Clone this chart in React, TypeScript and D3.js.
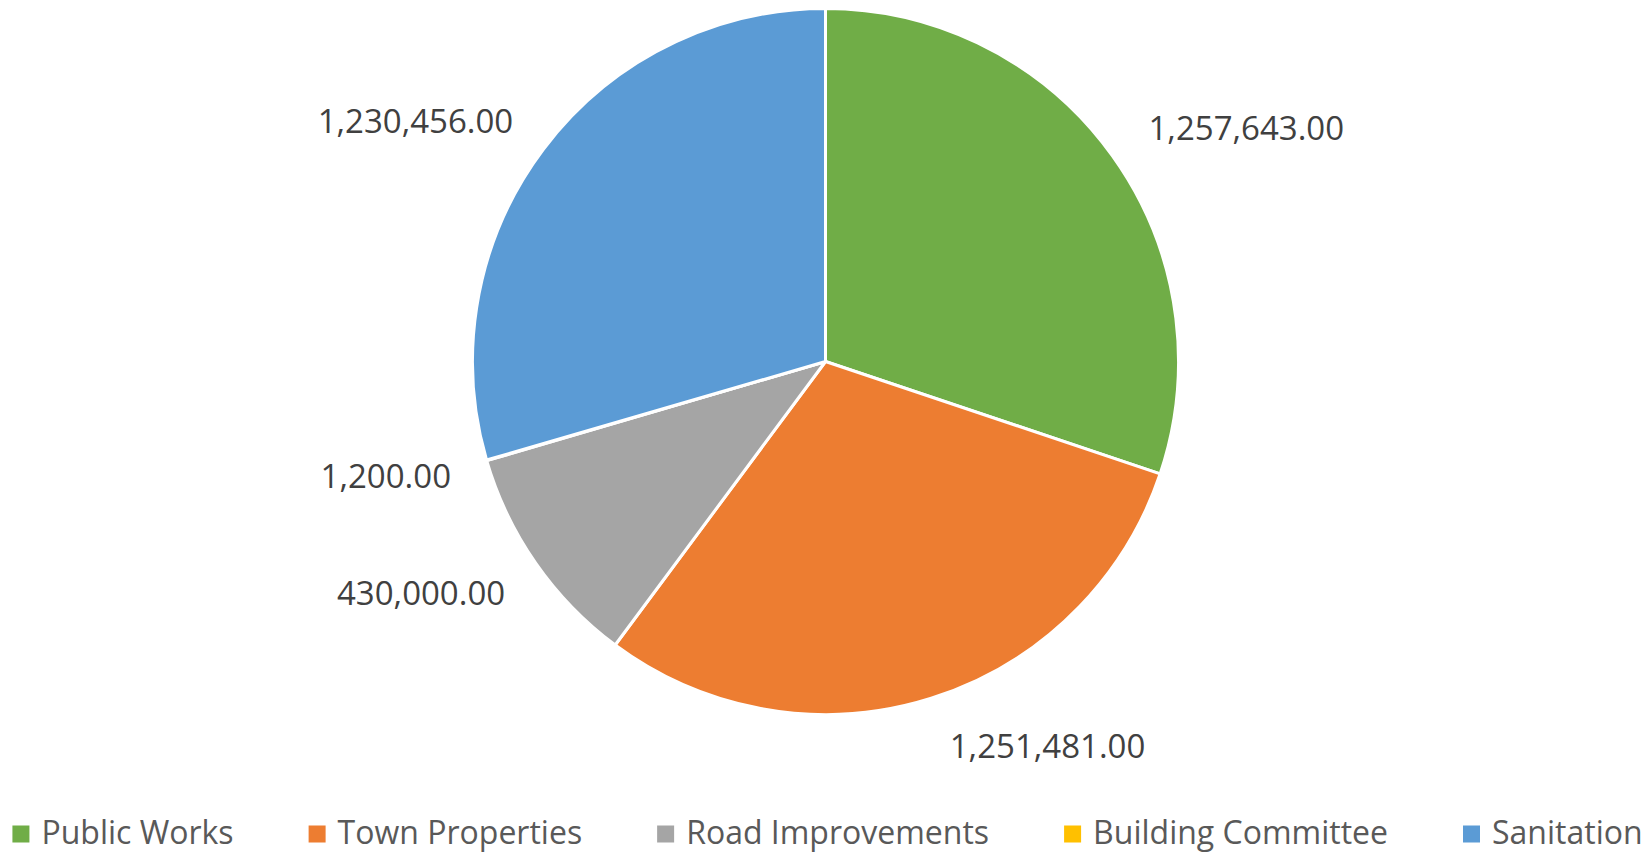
import React, { useEffect, useRef } from "react";
import * as d3 from "d3";

const categories = ["Public Works", "Town Properties", "Road Improvements", "Building Committee", "Sanitation"];
const values = [1257643, 1251481, 430000, 1200, 1230456];
const colors = ["#70AD47", "#ED7D31", "#A5A5A5", "#FFC000", "#5B9BD5"];

const W = 1652;
const H = 859;
const FONT = "'Open Sans', 'Noto Sans', sans-serif";

export default function App() {
  const ref = useRef<SVGSVGElement | null>(null);

  useEffect(() => {
    const svg = d3.select(ref.current);
    svg.selectAll("*").remove();

    const cx = 825.5;
    const cy = 361.5;
    const r = 353;
    const labelR = 388;
    const capH = 24;

    const data = categories.map((c, i) => ({ name: c, value: values[i], color: colors[i] }));
    const pie = d3.pie<any>().value((d: any) => d.value).sort(null);
    const arcs = pie(data);
    const arc = d3.arc<any>().innerRadius(0).outerRadius(r);

    const g = svg.append("g").attr("transform", `translate(${cx},${cy})`);
    g.selectAll("path")
      .data(arcs)
      .join("path")
      .attr("d", arc as any)
      .attr("fill", (d: any) => d.data.color)
      .attr("stroke", "#fff")
      .attr("stroke-width", 3)
      .attr("stroke-linejoin", "round");

    const fmt = d3.format(",.2f");
    arcs.forEach((a: any) => {
      const mid = (a.startAngle + a.endAngle) / 2;
      const s = Math.sin(mid);
      const c = Math.cos(mid);
      const ax = cx + labelR * s;
      const ay = cy - labelR * c;
      const top = ay - (capH / 2) * (1 + c) + (c < 0 ? 3 : 0);
      svg
        .append("text")
        .attr("x", s >= 0 ? ax + 8 : ax - 2)
        .attr("y", top + capH)
        .attr("text-anchor", s >= 0 ? "start" : "end")
        .attr("font-family", FONT)
        .attr("font-size", 33)
        .attr("fill", "#404040")
        .text(fmt(a.data.value));
    });

    // legend
    const lg = svg.append("g");
    const items = data.map((d) => {
      const item = lg.append("g");
      item.append("rect").attr("width", 17).attr("height", 17).attr("y", 825.5).attr("fill", d.color);
      const t = item
        .append("text")
        .attr("x", 29)
        .attr("y", 843.5)
        .attr("font-family", FONT)
        .attr("font-size", 32)
        .attr("fill", "#595959")
        .text(d.name);
      const tw = (t.node() as SVGTextElement).getComputedTextLength();
      return { item, w: 29 + tw };
    });
    const gap = 75;
    const total = items.reduce((s, it) => s + it.w, 0) + gap * (items.length - 1);
    let x = 827.5 - total / 2;
    items.forEach((it) => {
      it.item.attr("transform", `translate(${x},0)`);
      x += it.w + gap;
    });
  }, []);

  return (
    <svg
      ref={ref}
      width={W}
      height={H}
      style={{ position: "absolute", left: 0, top: 0, background: "#fff" }}
    />
  );
}
